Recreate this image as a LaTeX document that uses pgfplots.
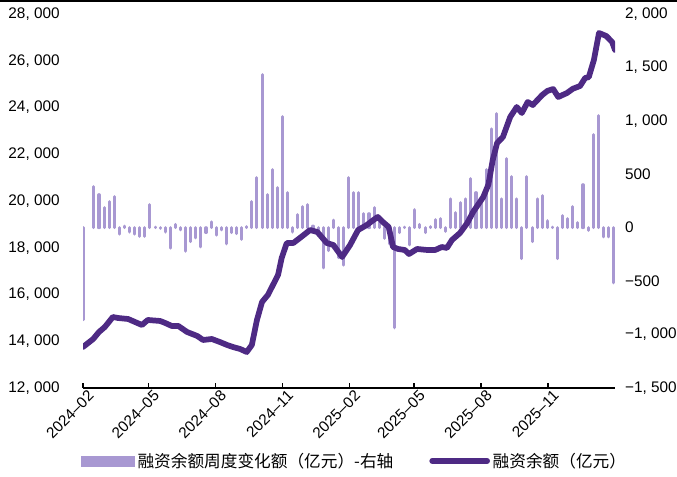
\documentclass[border=0pt]{standalone}
\usepackage{fontspec}
\setmainfont{Liberation Sans}
\newfontfamily\cjk{Noto Sans CJK SC}
\usepackage{pgfplots}
\pgfplotsset{compat=1.18}

\definecolor{barlav}{RGB}{168,152,210}
\definecolor{linepur}{RGB}{78,42,132}

% weekly change (right axis): day since 2024-02-01, value
\pgfplotstableread{
x v
1 -860
15 384
22 309
29 187
36 243
43 290
50 -60
57 15
64 -40
71 -60
78 -80
85 -80
92 215
99 5
106 -5
113 -40
120 -190
127 30
134 -20
141 -220
148 -130
155 -95
162 -180
169 -45
176 55
183 -70
190 -20
197 -150
204 -45
211 -55
218 -110
225 10
232 245
239 468
246 1432
253 309
260 543
267 374
274 1039
281 328
288 -40
295 122
302 197
309 215
316 15
323 -60
330 -375
337 -215
344 70
351 -280
358 -350
365 468
372 328
379 328
386 131
393 131
400 187
407 50
414 -100
421 -150
428 -936
435 -45
442 5
449 -160
456 168
463 30
470 -45
477 10
484 75
491 84
498 -35
505 270
512 140
519 234
526 270
533 460
540 328
547 270
554 543
561 925
568 1067
575 270
582 646
589 478
596 270
603 -290
610 478
617 -130
624 270
631 300
638 65
645 5
652 -290
659 112
666 84
673 197
680 47
687 402
694 -25
701 870
708 1048
715 -85
722 -85
729 -515
}\weekly

% balance (left axis)
\pgfplotstableread{
x v
0 13754
14 14096
22 14396
30 14610
41 15037
48 14995
62 14952
81 14695
89 14910
106 14867
113 14781
122 14653
131 14653
143 14396
157 14225
165 14054
177 14096
188 13968
198 13840
206 13754
216 13668
225 13540
232 13840
239 14910
246 15680
254 15979
268 16834
273 17562
280 18203
289 18203
298 18417
312 18759
322 18674
335 18203
344 18118
356 17604
367 18118
378 18759
390 18973
399 19187
405 19316
412 19102
420 18888
426 18032
433 17947
442 17904
448 17733
459 17947
473 17904
484 17904
493 18032
500 17990
507 18332
518 18631
528 19059
536 19530
550 20171
557 20700
563 21754
569 22481
577 22738
587 23594
596 24021
603 23765
611 24235
618 24107
631 24535
638 24706
646 24791
653 24449
665 24620
673 24800
683 24920
690 25262
695 25300
702 26032
709 27187
719 27059
727 26802
731 26460
}\balance

\begin{document}
\begin{tikzpicture}
\path[use as bounding box] (0,0) rectangle (507.75pt,357.75pt);
\fill[black] (0,356.5pt) rectangle (507.75pt,357.75pt);

\pgfplotsset{
  common/.style={
    at={(62.25pt,66.75pt)}, anchor=south west,
    scale only axis, width=399pt, height=280.5pt,
    xmin=0, xmax=731,
    scaled y ticks=false, scaled x ticks=false,
    font=\fontsize{11.5}{14}\selectfont,
    ytick style={draw=none},
    y axis line style={draw=none},
  }
}

% bars, right axis
\begin{axis}[
  common,
  axis y line*=right,
  axis x line*=bottom,
  ymin=-1500, ymax=2000,
  ytick={-1500,-1000,...,2000},
  yticklabels={{−1, 500},{−1, 000},{−500},{0},{500},{1, 000},{1, 500},{2, 000}},
  yticklabel style={anchor=west, xshift=4pt},
  x axis line style={black, line width=1.5pt},
  xtick={0,90,182,274,366,455,547,639},
  xticklabels={2024--02,2024--05,2024--08,2024--11,2025--02,2025--05,2025--08,2025--11},
  xtick align=inside,
  xtick style={black, line width=1pt},
  major tick length=4pt,
  xticklabel style={rotate=45, anchor=east, xshift=5pt, yshift=-7pt},
]
\addplot[ycomb, barlav, line width=2.3pt, line cap=round, mark=none] table[x=x, y=v] {\weekly};
\end{axis}

% balance line, left axis
\begin{axis}[
  common,
  axis y line*=left,
  hide x axis,
  ymin=12000, ymax=28000,
  ytick={12000,14000,...,28000},
  yticklabels={{12, 000},{14, 000},{16, 000},{18, 000},{20, 000},{22, 000},{24, 000},{26, 000},{28, 000}},
  yticklabel style={anchor=east, xshift=-14pt},
  legend columns=2,
  legend style={draw=none, fill=none, at={(0.511,-0.195)}, anchor=center,
    font=\cjk\fontsize{12.5}{14}\selectfont,
    /tikz/every even column/.append style={column sep=25pt}},
]
\addlegendimage{legend image code/.code={\fill[barlav] (0pt,-3.8pt) rectangle (40pt,3.8pt);}}
\addlegendentry{融资余额周度变化额（亿元）-右轴}
\addplot[linepur, line width=4.3pt, line join=round, line cap=round, mark=none,
  legend image code/.code={\draw[linepur, line width=4.5pt, line cap=round] (1pt,0pt) -- (42pt,0pt);}]
  table[x=x, y=v] {\balance};
\addlegendentry{融资余额（亿元）}
\end{axis}
\end{tikzpicture}
\end{document}
